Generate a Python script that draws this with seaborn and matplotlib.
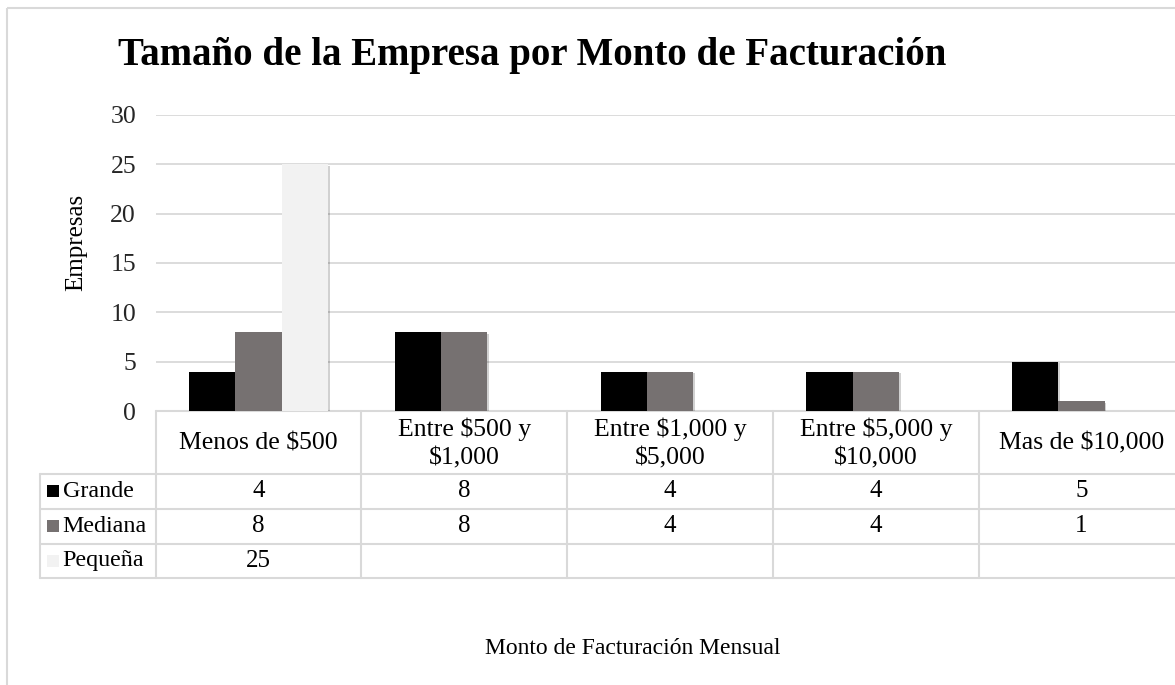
import numpy as np
import pandas as pd
import matplotlib
matplotlib.use("Agg")
import matplotlib.pyplot as plt
import matplotlib.patheffects as pe
from matplotlib.lines import Line2D
from matplotlib.patches import Rectangle
import seaborn as sns

categories = ["Menos de $500", "Entre $500 y\n$1,000", "Entre $1,000 y\n$5,000",
              "Entre $5,000 y\n$10,000", "Mas de $10,000"]
series = ["Grande", "Mediana", "Pequeña"]
grande = [4, 8, 4, 4, 5]
mediana = [8, 8, 4, 4, 1]
pequena = [25, None, None, None, None]
colors = ["#000000", "#767171", "#f2f2f2"]
yticks = [0, 5, 10, 15, 20, 25, 30]
title = "Tamaño de la Empresa por Monto de Facturación"
ylabel = "Empresas"
xlabel = "Monto de Facturación Mensual"

sns.set_theme(style="white")
plt.rcParams["font.family"] = ["Liberation Serif", "DejaVu Serif"]

rows = []
for s, vals in zip(series, [grande, mediana, pequena]):
    for c, v in zip(categories, vals):
        rows.append({"cat": c, "serie": s, "val": np.nan if v is None else v})
df = pd.DataFrame(rows)

W, H = 1175, 685
fig = plt.figure(figsize=(W / 100, H / 100), dpi=100)
fig.patch.set_facecolor("white")

ov = fig.add_axes([0, 0, 1, 1], zorder=0)
ov.set_xlim(0, W)
ov.set_ylim(H, 0)
ov.axis("off")

x0, cw = 155.5, 205.8
ntot = len(categories)
x_right = x0 + cw * ntot
y_top, y_bot = 115, 411
ax = fig.add_axes([x0 / W, 1 - y_bot / H, (x_right - x0) / W, (y_bot - y_top) / H], zorder=1)
ax.patch.set_alpha(0)

sns.barplot(data=df, x="cat", y="val", hue="serie", hue_order=series, order=categories,
            palette=colors, width=0.675, saturation=1, ax=ax, legend=False,
            edgecolor="none", linewidth=0)
for p in ax.patches:
    p.set_path_effects([pe.SimplePatchShadow(offset=(1.2, -1.2), alpha=0.18, shadow_rgbFace="#000000"),
                        pe.Normal()])
ax.set_xlim(-0.5, ntot - 0.5)
ax.set_ylim(0, 30)
ax.set_yticks(yticks)
ax.set_yticklabels([str(t) for t in yticks], fontsize=18.5)
ax.tick_params(axis="y", length=0, pad=14)
ax.set_xticks([])
ax.set_xlabel("")
ax.set_ylabel("")
ax.grid(axis="y", color="#d9d9d9", linewidth=1.3)
ax.set_axisbelow(True)
for s in ax.spines.values():
    s.set_visible(False)

ov.add_patch(Rectangle((6.5, 7.5), W + 20, H + 20, fill=False, edgecolor="#d9d9d9", linewidth=1.5))

ov.text(532, 55, title, ha="center", va="center", fontsize=28, fontweight="bold", color="#000000")
ov.text(76, 242, ylabel, ha="center", va="center", rotation=90, fontsize=18, color="#000000")
ov.text(633, 648, xlabel, ha="center", va="center", fontsize=17, color="#000000")

lc = "#d9d9d9"
lw = 1.5
row_h = [411, 473.5, 508.5, 543.5, 578]
tx0 = 40
ov.add_line(Line2D([x0, W + 5], [411, 411], color=lc, lw=lw))
for y in row_h[1:]:
    ov.add_line(Line2D([tx0, W + 5], [y, y], color=lc, lw=lw))
ov.add_line(Line2D([tx0, tx0], [row_h[1], row_h[-1]], color=lc, lw=lw))
for k in range(ntot + 1):
    xx = x0 + cw * k
    ov.add_line(Line2D([xx, xx], [411, row_h[-1]], color=lc, lw=lw))

for k, c in enumerate(categories):
    ov.text(x0 + cw * (k + 0.5), 443.5, c, ha="center", va="center", fontsize=18.5,
            linespacing=1.42, color="#000000")

for r, (s, col, vals) in enumerate(zip(series, colors, [grande, mediana, pequena])):
    yc = (row_h[r + 1] + row_h[r + 2]) / 2
    ov.add_patch(Rectangle((47, yc - 6), 12, 12, facecolor=col, edgecolor="none"))
    ov.text(62.5, yc, s, ha="left", va="center", fontsize=17.3, color="#000000")
    for k, v in enumerate(vals):
        if v is not None:
            ov.text(x0 + cw * (k + 0.5), yc, str(v), ha="center", va="center", fontsize=18,
                    color="#000000")

fig.savefig("out.png", dpi=100, facecolor="white")
